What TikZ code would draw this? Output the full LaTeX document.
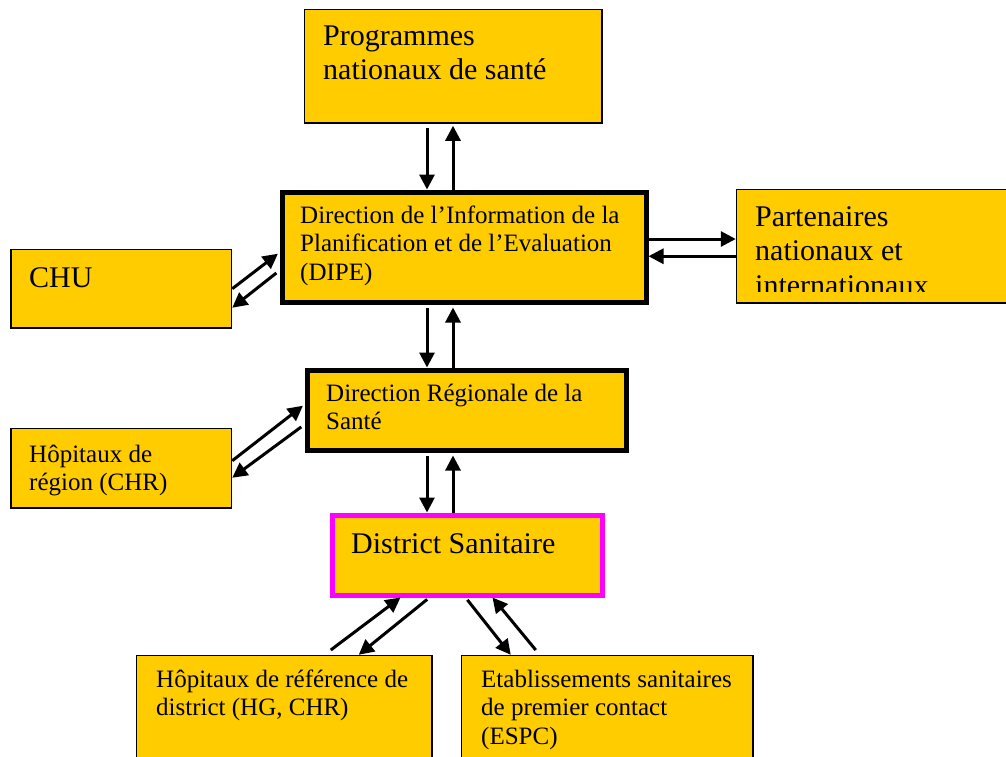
\documentclass[tikz,border=0pt]{standalone}
\usepackage{fontspec}
\setmainfont{Liberation Serif}
\usetikzlibrary{arrows.meta, calc}
\definecolor{boxyellow}{HTML}{FFCC00}
\definecolor{distmagenta}{HTML}{FF00FF}
\tikzset{
  box/.style={draw=black, line width=1.5pt, fill=boxyellow, anchor=north west, inner sep=0pt},
  mainbox/.style={box, line width=5pt},
  distbox/.style={box, draw=distmagenta, line width=5pt},
  bigtext/.style={anchor=north west, inner sep=0pt, align=left, font=\fontsize{30}{34.5}\selectfont},
  smalltext/.style={anchor=north west, inner sep=0pt, align=left, font=\fontsize{25}{28.5}\selectfont},
  link/.style={line width=3pt, -{Triangle[length=15pt,width=15pt]}}
}

\begin{document}
\begin{tikzpicture}[x=1pt, y=-1pt]
        \useasboundingbox (0,0) rectangle (1006,757);
        \node[box, minimum width=297.5pt, minimum height=113.5pt] (prog) at (303.75,8.75) {};
        \node[mainbox, minimum width=364pt, minimum height=110pt] (dipe) at (279.5,189.5) {};
        \node[box, minimum width=220.5pt, minimum height=78.5pt] (chu) at (10.25,248.75) {};
        \node[box, minimum width=280pt, minimum height=113.5pt] (part) at (735.75,188.75) {};
        \node[mainbox, minimum width=319pt, minimum height=80pt] (drs) at (304.5,367.5) {};
        \node[box, minimum width=220.5pt, minimum height=79.5pt] (hopreg) at (10.25,427.75) {};
        \node[distbox, minimum width=270pt, minimum height=80pt] (dist) at (329.5,512.5) {};
        \node[box, minimum width=295.5pt, minimum height=130pt] (hopref) at (135.75,654.75) {};
        \node[box, minimum width=291.5pt, minimum height=130pt] (etab) at (460.75,654.75) {};

        \node[bigtext] (progtxt) at (323,21) {\strut Programmes\\nationaux de santé};
        \node[smalltext] (dipetxt) at (300,203) {\strut Direction de l’Information de la\\Planification et de l’Evaluation\\(DIPE)};
        \node[bigtext] (chutxt) at (29,263) {\strut CHU};
        \begin{scope}
          \clip (735,188) rectangle (1006,291);
          \node[bigtext] (parttxt) at (755,202) {\strut Partenaires\\nationaux et\\internationaux};
        \end{scope}
        \node[smalltext] (drstxt) at (326,381) {\strut Direction Régionale de la\\Santé};
        \node[smalltext] (hopregtxt) at (29,442) {\strut Hôpitaux de\\région (CHR)};
        \node[bigtext] (disttxt) at (351,529) {\strut District Sanitaire};
        \node[smalltext] (hopreftxt) at (156,667) {\strut Hôpitaux de référence de\\district (HG, CHR)};
        \node[smalltext] (etabtxt) at (481,667) {\strut Etablissements sanitaires\\de premier contact\\(ESPC)};

        \coordinate (dn) at (427,0);
        \coordinate (up) at (453,0);
        \draw[link, shorten <=4pt] (dn |- prog.south) -- (dn |- dipe.north);
        \draw[link, shorten >=2pt] (up |- dipe.north) -- (up |- prog.south);
        \draw[link, shorten <=3pt] (dn |- dipe.south) -- (dn |- drs.north);
        \draw[link, shorten >=3pt] (up |- drs.north) -- (up |- dipe.south);
        \draw[link, shorten <=3pt] (dn |- drs.south) -- (dn |- dist.north);
        \draw[link, shorten >=3pt] (up |- dist.north) -- (up |- drs.south);

        \draw[link] ([yshift=8pt]dipe.east) -- ([yshift=8pt]dipe.east -| part.west);
        \draw[link] ([yshift=-10pt]part.west) -- ([yshift=-10pt]part.west -| dipe.east);

        \draw[link, shorten >=2pt] (chu.east) -- ([yshift=-5.5pt]dipe.west);
        \draw[link, shorten <=4pt] ([yshift=-23.5pt]dipe.west) -- ([yshift=-19pt]chu.east);
        \draw[link, shorten >=2pt] ([yshift=7.5pt]hopreg.east) -- ([yshift=5.5pt]drs.west);
        \draw[link, shorten <=4pt] ([yshift=-14.5pt]drs.west) -- ([yshift=-9.5pt]hopreg.east);

        \draw[link] ([xshift=46.5pt,yshift=4.75pt]hopref.north) -- ([xshift=-66.5pt]dist.south);
        \draw[link, shorten <=3pt] ([xshift=-37.5pt]dist.south) -- ([xshift=74.5pt]hopref.north);
        \draw[link, shorten <=3pt] ([xshift=-1.5pt]dist.south) -- ([xshift=-96.5pt]etab.north);
        \draw[link] ([xshift=-71.5pt,yshift=4.75pt]etab.north) -- ([xshift=25.5pt]dist.south);
      \end{tikzpicture}
\end{document}
